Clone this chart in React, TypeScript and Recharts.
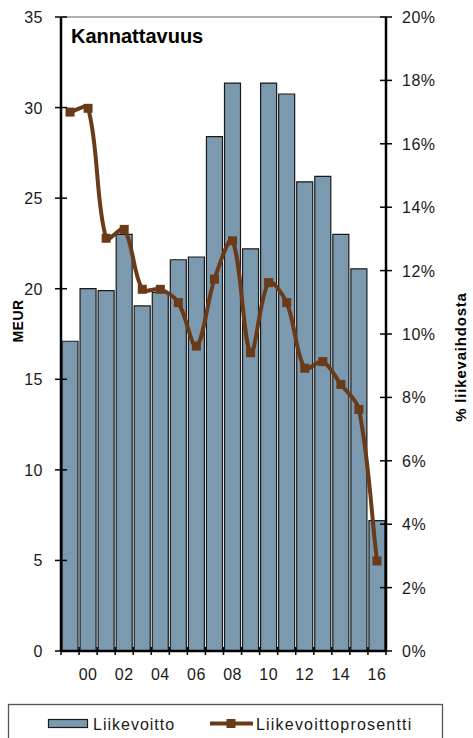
import { ComposedChart, Bar, Line, XAxis, YAxis, ReferenceLine } from "recharts";

const years = [1999, 2000, 2001, 2002, 2003, 2004, 2005, 2006, 2007, 2008, 2009, 2010, 2011, 2012, 2013, 2014, 2015, 2016];
const yearLabels = ["", "00", "", "02", "", "04", "", "06", "", "08", "", "10", "", "12", "", "14", "", "16"];
// MEUR
const liikevoitto = [17.1, 20.0, 19.9, 23.0, 19.05, 19.8, 21.6, 21.75, 28.4, 31.35, 22.2, 31.35, 30.75, 25.9, 26.2, 23.0, 21.1, 7.2];
// % liikevaihdosta
const liikevoittoprosentti = [17.0, 17.12, 13.02, 13.3, 11.41, 11.41, 10.99, 9.62, 11.73, 12.94, 9.41, 11.62, 10.99, 8.92, 9.13, 8.41, 7.62, 2.84];
const meurTicks = [0, 5, 10, 15, 20, 25, 30, 35];
const pctTicks = [0, 2, 4, 6, 8, 10, 12, 14, 16, 18, 20];

const data = years.map((year, i) => ({
  year,
  meur: liikevoitto[i],
  pct: liikevoittoprosentti[i],
}));

const W = 473;
const H = 738;
const LEFT_W = 61;
const RIGHT_W = 87;
const BAND = (W - LEFT_W - RIGHT_W) / years.length;

const BAR_FILL = "#7B9AAF";
const BROWN = "#6B3A18";
const INK = "#1a1a1a";
const FONT = "'Liberation Sans', Arial, sans-serif";

// Excel-like smoothing: bezier with tangent length scaled by neighbouring segment lengths
function excelSmooth(context: any) {
  let pts: number[][] = [];
  const dist = (a: number[], b: number[]) => Math.hypot(b[0] - a[0], b[1] - a[1]);
  return {
    areaStart() {},
    areaEnd() {},
    lineStart() {
      pts = [];
    },
    point(x: number, y: number) {
      pts.push([+x, +y]);
    },
    lineEnd() {
      if (!pts.length) return;
      const n = pts.length;
      // outgoing / incoming control offsets at each point
      const tan = pts.map((p, i) => {
        const prev = pts[Math.max(i - 1, 0)];
        const next = pts[Math.min(i + 1, n - 1)];
        const dPrev = dist(prev, p);
        const dNext = dist(p, next);
        const sum = dPrev + dNext || 1;
        const dx = next[0] - prev[0];
        const dy = next[1] - prev[1];
        return {
          outX: (dx * dNext) / sum / 3,
          outY: (dy * dNext) / sum / 3,
          inX: (dx * dPrev) / sum / 3,
          inY: (dy * dPrev) / sum / 3,
        };
      });
      context.moveTo(pts[0][0], pts[0][1]);
      for (let i = 0; i < n - 1; i++) {
        const p1 = pts[i];
        const p2 = pts[i + 1];
        context.bezierCurveTo(
          p1[0] + tan[i].outX,
          p1[1] + tan[i].outY,
          p2[0] - tan[i + 1].inX,
          p2[1] - tan[i + 1].inY,
          p2[0],
          p2[1]
        );
      }
    },
  };
}

function YearTick({ x, y, index }: any) {
  const half = BAND / 2;
  return (
    <g>
      <line x1={x - half} x2={x - half} y1={y - 4} y2={y + 4} stroke="#000" strokeWidth={1.5} />
      {index === years.length - 1 && (
        <line x1={x + half} x2={x + half} y1={y - 4} y2={y + 4} stroke="#000" strokeWidth={1.5} />
      )}
      <text x={x} y={y + 29} textAnchor="middle" fontSize={16} letterSpacing={0.5} fill={INK}>
        {yearLabels[index]}
      </text>
    </g>
  );
}

function MeurTick({ x, y, payload }: any) {
  return (
    <g>
      <line x1={x - 6} x2={x + 6} y1={y} y2={y} stroke="#000" strokeWidth={1.5} />
      <text x={x - 18} y={y + 6} textAnchor="end" fontSize={16} letterSpacing={0.5} fill={INK}>
        {payload.value}
      </text>
    </g>
  );
}

function PctTick({ x, y, payload }: any) {
  return (
    <g>
      <line x1={x - 6} x2={x + 6} y1={y} y2={y} stroke="#000" strokeWidth={1.5} />
      <text x={x + 16} y={y + 6} textAnchor="start" fontSize={16} letterSpacing={0.5} fill={INK}>
        {`${payload.value}%`}
      </text>
    </g>
  );
}

function SquareDot({ cx, cy, index }: any) {
  return <rect key={`sq-${index}`} x={cx - 4.5} y={cy - 4.5} width={9} height={9} fill={BROWN} />;
}

export default function App() {
  return (
    <div style={{ position: "absolute", left: 0, top: 0, width: W, height: H, fontFamily: FONT, background: "#fff" }}>
      <ComposedChart
        width={W}
        height={H}
        data={data}
        margin={{ top: 17, right: 0, bottom: 52, left: 0 }}
        barCategoryGap={1}
      >
        <XAxis
          dataKey="year"
          height={35}
          interval={0}
          tickSize={0}
          tickMargin={0}
          tickLine={false}
          axisLine={{ stroke: "#000", strokeWidth: 2.5 }}
          tick={<YearTick />}
        />
        <YAxis
          yAxisId="meur"
          orientation="left"
          width={LEFT_W}
          domain={[0, 35]}
          ticks={meurTicks}
          tickSize={0}
          tickMargin={0}
          tickLine={false}
          axisLine={{ stroke: "#000", strokeWidth: 2.5 }}
          tick={<MeurTick />}
        />
        <YAxis
          yAxisId="pct"
          orientation="right"
          width={RIGHT_W}
          domain={[0, 20]}
          ticks={pctTicks}
          tickSize={0}
          tickMargin={0}
          tickLine={false}
          axisLine={{ stroke: "#000", strokeWidth: 2.5 }}
          tick={<PctTick />}
        />
        <ReferenceLine yAxisId="meur" y={35} stroke="#999" strokeWidth={1.5} />
        <Bar
          yAxisId="meur"
          dataKey="meur"
          name="Liikevoitto"
          fill={BAR_FILL}
          stroke={INK}
          strokeWidth={1.2}
          isAnimationActive={false}
        />
        <Line
          yAxisId="pct"
          dataKey="pct"
          name="Liikevoittoprosentti"
          type={excelSmooth as any}
          stroke={BROWN}
          strokeWidth={4}
          dot={<SquareDot />}
          activeDot={false}
          isAnimationActive={false}
        />
      </ComposedChart>

      <svg
        width={W}
        height={H}
        style={{ position: "absolute", left: 0, top: 0, pointerEvents: "none" }}
      >
        <text x={71} y={43} fontSize={20} fontWeight="bold" fill="#000">
          Kannattavuus
        </text>
        <text
          x={0}
          y={0}
          transform="translate(18,321) rotate(-90)"
          textAnchor="middle"
          dominantBaseline="central"
          fontSize={14}
          fontWeight="bold"
          letterSpacing={0.5}
          fill="#000"
        >
          MEUR
        </text>
        <text
          x={0}
          y={0}
          transform="translate(460,357) rotate(-90)"
          textAnchor="middle"
          dominantBaseline="central"
          fontSize={15}
          fontWeight="bold"
          letterSpacing={0.8}
          fill="#000"
        >
          % liikevaihdosta
        </text>

        <rect x={8.5} y={704.5} width={434} height={50} fill="none" stroke="#555" strokeWidth={1.3} />
        <rect x={48.5} y={719.5} width={39} height={8} fill={BAR_FILL} stroke={INK} strokeWidth={1.2} />
        <text x={93} y={729.5} fontSize={16} letterSpacing={1} fill={INK}>
          Liikevoitto
        </text>
        <line x1={210} x2={253} y1={723.5} y2={723.5} stroke={BROWN} strokeWidth={4} />
        <rect x={226.5} y={719} width={9} height={9} fill={BROWN} />
        <text x={256} y={729.5} fontSize={16} letterSpacing={1.2} fill={INK}>
          Liikevoittoprosentti
        </text>
      </svg>
    </div>
  );
}
